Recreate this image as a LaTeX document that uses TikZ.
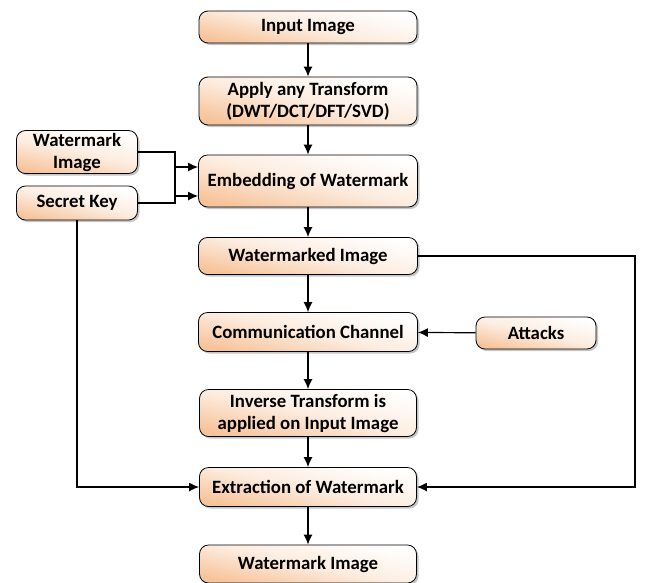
\documentclass[tikz,border=0pt]{standalone}
\usepackage{fontspec}
\setmainfont{Carlito}
\usetikzlibrary{shadows,arrows.meta}
\definecolor{peach}{HTML}{F7C39A}
\tikzset{
  box/.style={draw=black, line width=0.8pt, rounded corners=9pt, align=center,
    font=\bfseries\fontsize{18.8}{22}\selectfont,
    shading=axis, top color=white, bottom color=peach, middle color=peach!30, shading angle=-12,
    drop shadow={shadow xshift=2pt, shadow yshift=-2pt, fill=black!45},
    inner sep=0pt},
  arr/.style={-{Latex[length=10pt,width=9pt]}, line width=1.2pt}
}
\begin{document}
\begin{tikzpicture}[x=1pt,y=-1pt]
\useasboundingbox (0,0) rectangle (646,582);
\node[box, minimum width=218pt, minimum height=32pt] (in) at (308,27) {Input Image};
\node[box, minimum width=218pt, minimum height=48pt] (tr) at (308,101) {Apply any Transform\\(DWT/DCT/DFT/SVD)};
\node[box, minimum width=219pt, minimum height=52pt] (em) at (308,181) {Embedding of Watermark};
\node[box, minimum width=121pt, minimum height=43pt] (wi) at (77,152) {Watermark\\Image};
\node[box, minimum width=121pt, minimum height=34pt] (sk) at (77,203) {Secret Key};
\node[box, minimum width=219pt, minimum height=37pt] (wm) at (308,256) {Watermarked Image};
\node[box, minimum width=219pt, minimum height=39pt] (cc) at (308,332) {Communication Channel};
\node[box, minimum width=120pt, minimum height=32pt] (at) at (536,333) {Attacks};
\node[box, minimum width=217pt, minimum height=47pt] (iv) at (308,413) {Inverse Transform is\\applied on Input Image};
\node[box, minimum width=217pt, minimum height=39pt] (ex) at (308,487) {Extraction of Watermark};
\node[box, minimum width=217pt, minimum height=38pt] (ow) at (308,564) {Watermark Image};
\coordinate (r1) at (635,256);
\coordinate (r2) at (635,487);
\coordinate (l1) at (77,487);
\draw[arr] (in) -- (tr);
\draw[arr] (tr) -- (em);
\draw[arr] (em) -- (wm);
\draw[arr] (wm) -- (cc);
\draw[arr] (cc) -- (iv);
\draw[arr] (iv) -- (ex);
\draw[arr] (ex) -- (ow);
\draw[arr] (at) -- (cc);
\draw[arr] (wi.east) -- ++(37,0) |- ([yshift=-15pt]em.west);
\draw[arr] (sk.east) -- ++(37,0) |- ([yshift=14pt]em.west);
\draw[arr] (sk.south) -- (l1) -- (ex.west);
\draw[arr] (wm.east) -- (r1) -- (r2) -- (ex.east);
\end{tikzpicture}
\end{document}
